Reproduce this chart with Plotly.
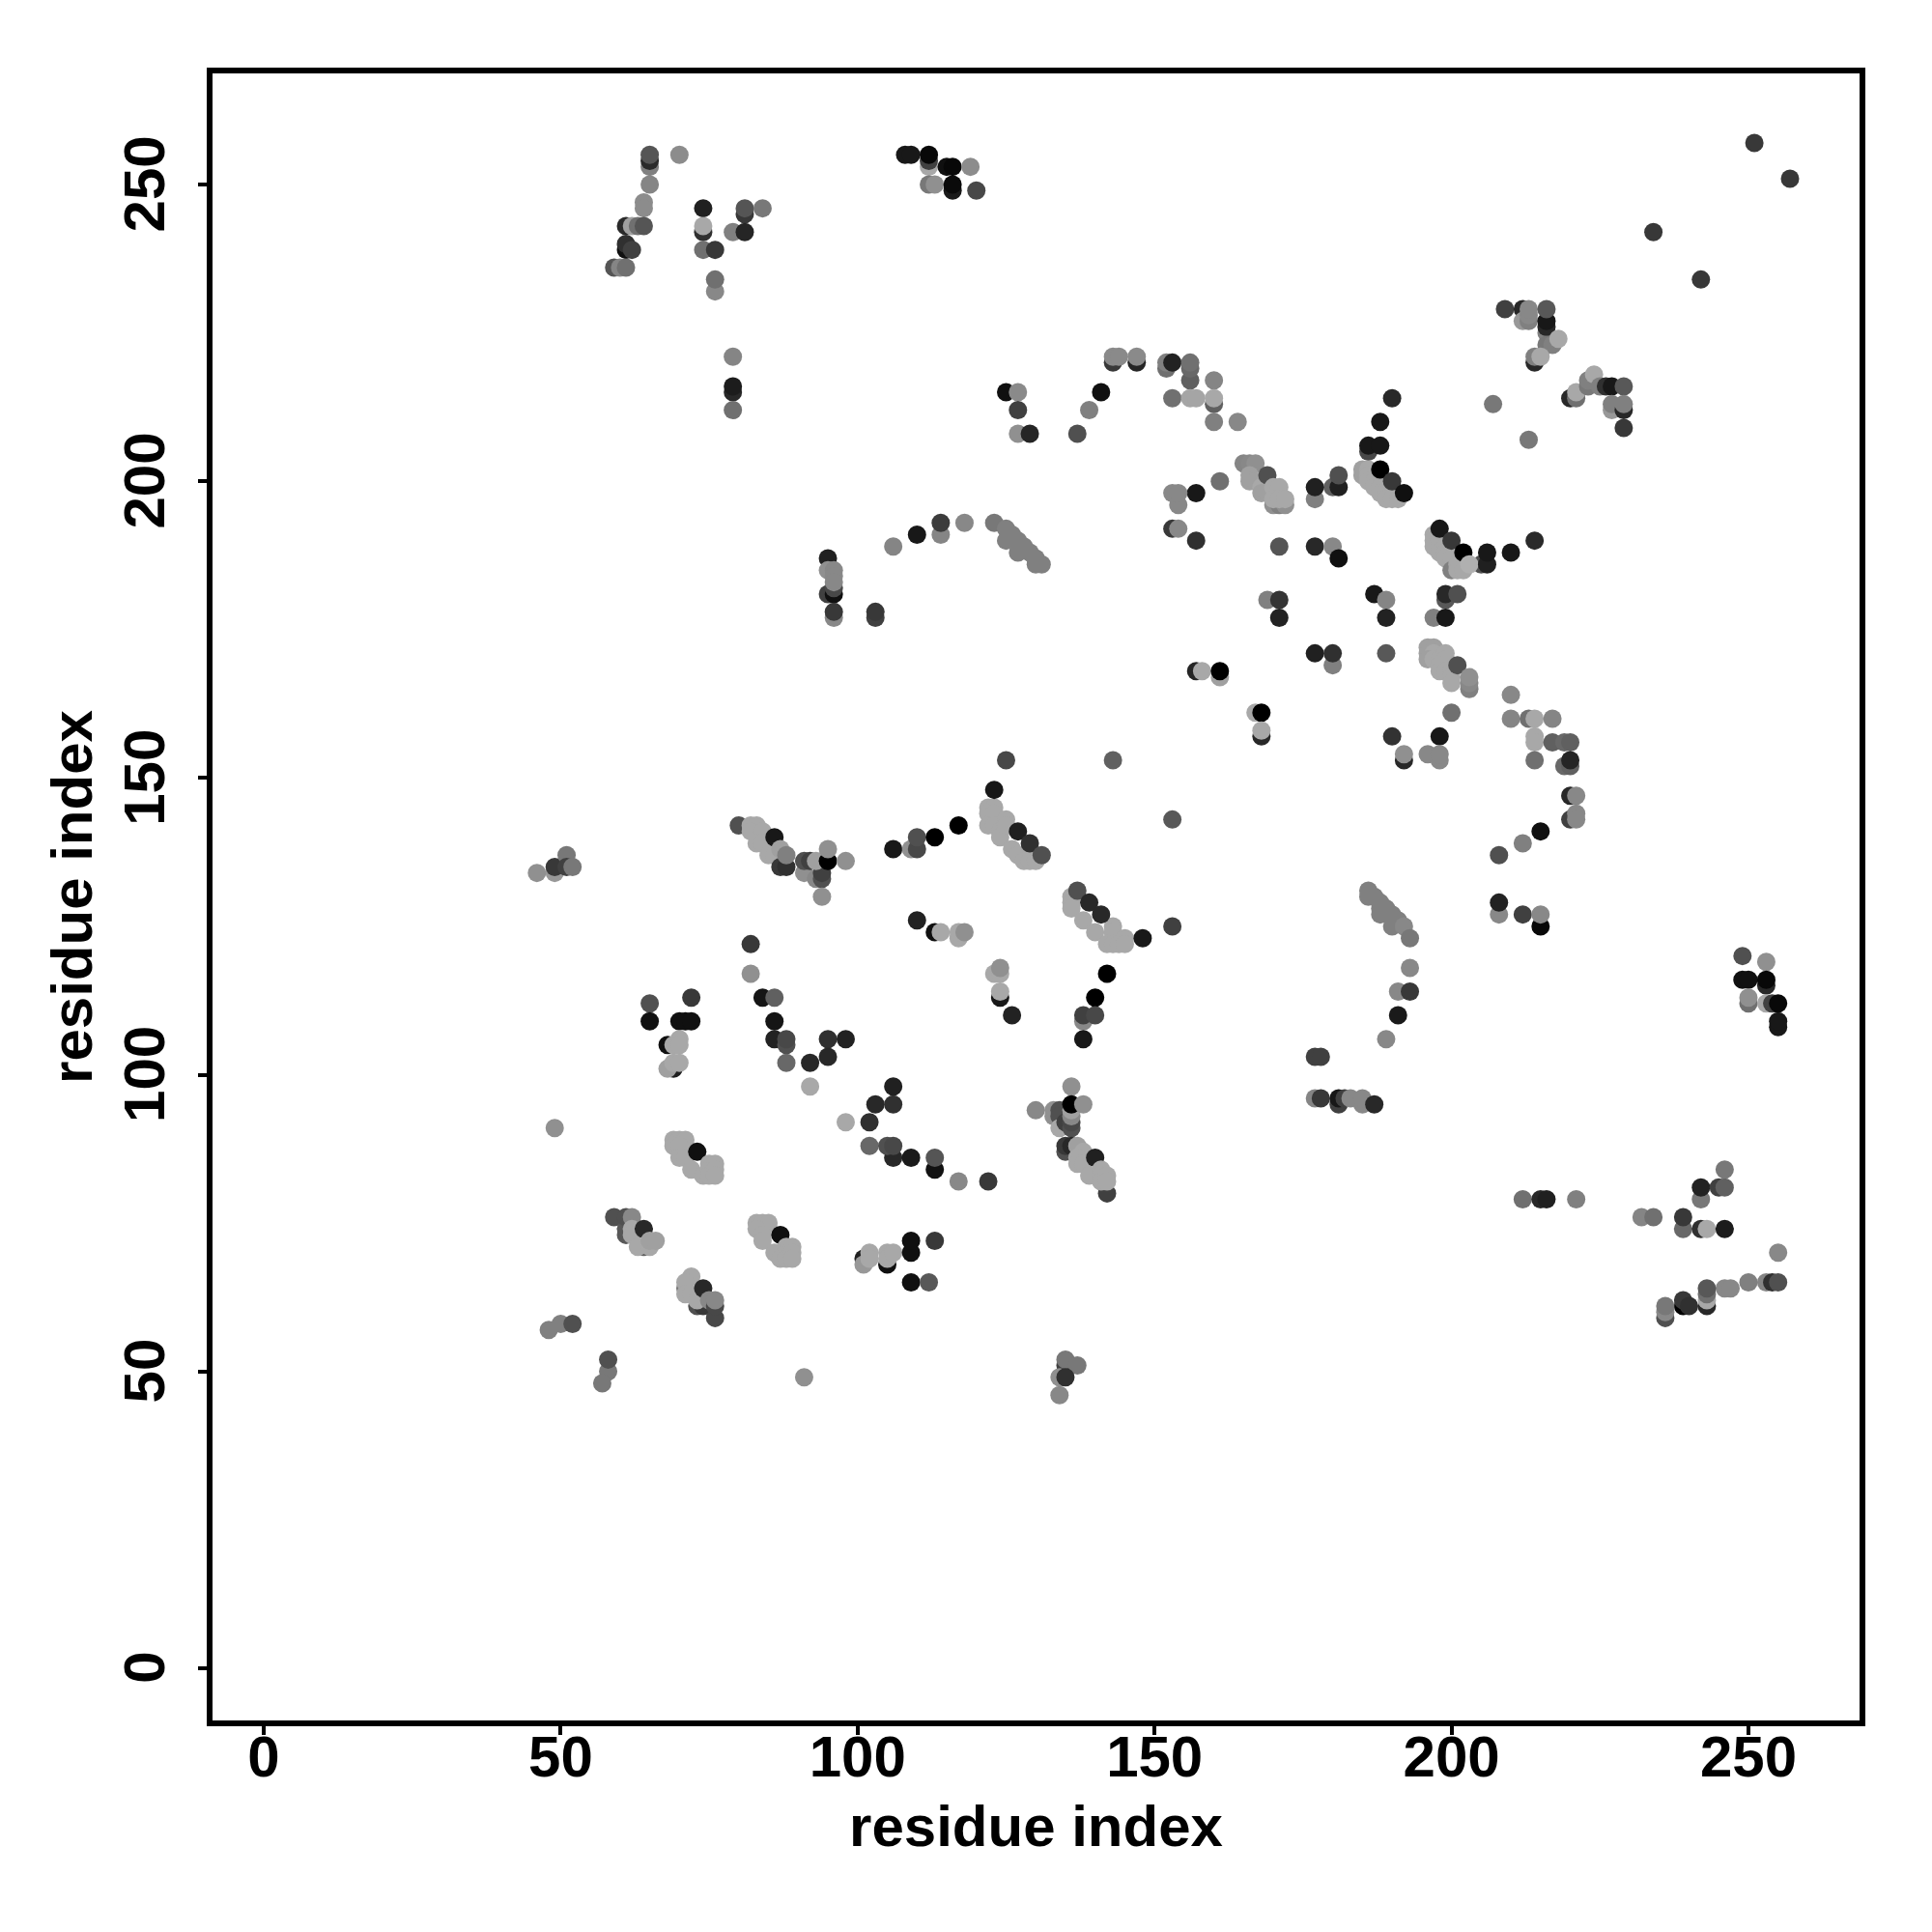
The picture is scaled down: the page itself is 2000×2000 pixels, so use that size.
import plotly.graph_objects as go

axis_title = "residue index"
tick_values = [0, 50, 100, 150, 200, 250]

# each entry: residue i, residue j, shade level of the point (0 black .. 255 white)
top_left = [(65,253,0x80),(65,254,0x2a),(65,255,0x55),(65,250,0x85),(70,255,0x8c),(64,247,0x8c),(64,246,0x8c),
            (61,243,0x2a),(62,243,0xa0),(63,243,0x70),(64,243,0x55),(61,239,0x10),(61,240,0x30),(62,239,0x40),
            (59,236,0x55),(60,236,0x85),(61,236,0x70),(74,246,0x20),(74,242,0x30),(74,243,0xa8),(74,239,0x70),
            (76,239,0x38),(76,232,0x88),(76,234,0x70),(81,245,0x38),(81,246,0x55),(84,246,0x78),(79,242,0x80),
            (81,242,0x25),(79,221,0x85),(79,215,0x28),(79,216,0x1c),(79,212,0x70)]
top_mid = [(108,255,0x18),(109,255,0x18),(112,253,0xa8),(112,254,0x40),(112,255,0x08),(112,250,0x78),(113,250,0x90),
           (115,253,0x10),(116,253,0x08),(119,253,0x8c),(116,249,0x1a),(116,250,0x0a),(120,249,0x48)]
arc_220 = [(143,220,0x38),(143,221,0x8a),(144,221,0x8a),(147,220,0x25),(147,221,0x8a),(152,219,0x70),(152,220,0x80),
           (153,220,0x22),(156,217,0x60),(156,219,0x68),(156,220,0x70),(160,217,0x85),(153,214,0x70),(156,214,0xa5),
           (157,214,0xa5),(160,213,0x60),(160,214,0xa8),(160,210,0x80),(164,210,0x88),(125,215,0x10),(127,215,0x8a),
           (127,212,0x40),(127,208,0x90),(129,208,0x25),(137,208,0x50),(139,212,0x80),(141,215,0x10)]
top_right = [(251,257,0x38),(257,251,0x38),(234,242,0x38),(242,234,0x38),(209,229,0x40),(212,229,0x28),(212,227,0x98),
             (213,227,0x80),(213,228,0x88),(213,229,0x88),(216,225,0x80),(216,226,0x28),(216,227,0x18),(216,229,0x58),
             (216,223,0x78),(217,223,0x80),(218,224,0xa8),(214,220,0x28),(214,221,0x80),(215,221,0xa8),(207,213,0x78),
             (213,207,0x78),(220,214,0x28),(221,214,0x70),(221,215,0xa8),(223,216,0x78),(223,217,0x80),(224,218,0xa8),
             (225,216,0x80),(226,216,0x30),(227,216,0x18),(229,216,0x58),(227,212,0x98),(227,213,0x80),(229,212,0x28),
             (229,213,0x80),(229,209,0x38)]
star_200 = [(190,214,0x28),(188,210,0x18),(186,205,0x48),(186,206,0x18),(188,206,0x18),
            (185,201,0xa0),(185,202,0xa0),(186,202,0xa8),(186,201,0xa8),(186,200,0xa8),(187,200,0xa8),(187,199,0xa8),
            (188,199,0xa8),(188,198,0xa8),(189,198,0xa8),(189,197,0xa8),(190,197,0xa8),(191,197,0xa8),
            (188,202,0x00),(190,200,0x38),(192,198,0x10),(180,199,0x60),(181,199,0x20),(181,201,0x50),(177,197,0x80),
            (177,199,0x20),(161,200,0x70),(157,198,0x18),(154,196,0x88),(153,198,0x88),(154,198,0x88),
            (153,192,0x38),(154,192,0x88),(157,190,0x30)]
band_165 = [(165,203,0x85),(166,203,0x88),(167,203,0x90),(166,201,0xa0),(166,200,0xa0),(167,200,0xa0),(168,199,0xa8),
            (168,198,0xa0),(169,198,0xa0),(170,196,0x90),(171,196,0x80),(172,196,0x90),(169,201,0x50),(170,199,0xa8),
            (171,199,0xa8),(170,197,0xa8),(171,197,0xa8),(172,197,0xa8),(171,189,0x55),(177,189,0x28),(180,189,0x88),
            (181,187,0x10)]
band_190 = [(197,191,0xa8),(197,190,0xa8),(197,189,0xa8),(198,190,0xa8),(198,188,0xa8),(199,189,0xa8),(199,188,0xa8),
            (199,187,0xa8),(200,187,0xa8),(200,185,0x80),(201,186,0xa8),(201,185,0xa8),(202,185,0xa8),(198,192,0x18),
            (200,190,0x38),(202,188,0x00),(205,186,0x50),(203,186,0xb0),(206,186,0x20),(206,188,0x18),(210,188,0x18),
            (214,190,0x2a)]
mid_180 = [(169,180,0x80),(171,180,0x35),(171,177,0x22),(187,181,0x18),(189,180,0x85),(189,177,0x22),(189,171,0x58),
           (199,180,0x58),(199,181,0x28),(201,181,0x50),(197,177,0x80),(199,177,0x18),(177,171,0x20),(180,169,0x80),
           (180,171,0x30),(157,168,0x25),(158,168,0xa8),(161,167,0xa0),(161,168,0x00),(167,161,0xa8),(168,161,0x00),
           (168,157,0x28),(168,158,0xa8)]
band_170 = [(196,172,0xa0),(197,172,0xa0),(196,171,0xa0),(197,171,0xa8),(196,170,0xa0),(197,170,0xa8),(198,170,0xa8),
            (199,171,0xa8),(199,170,0xa8),(198,169,0xa8),(198,168,0xa8),(199,168,0xa8),(200,168,0xa8),(200,167,0xa8),
            (200,166,0xa8),(201,169,0x50),(203,165,0x80),(203,166,0x88),(203,167,0x90),(200,161,0x70),(190,157,0x32),
            (198,157,0x18),(192,153,0x28),(192,154,0x90),(196,154,0x88),(198,153,0x88),(198,154,0x88)]
right_150 = [(210,164,0x88),(210,160,0x85),(213,160,0x70),(214,160,0xa8),(217,160,0x85),(214,157,0xa8),(214,156,0xa8),
             (217,156,0x60),(219,156,0x68),(220,156,0x60),(214,153,0x70),(219,152,0x68),(220,152,0x60),(220,153,0x25),
             (220,147,0x28),(221,147,0x88),(220,143,0x40),(221,144,0x88),(221,143,0x88),(215,141,0x10),(212,139,0x80),
             (208,137,0x50),(208,127,0x88),(208,129,0x22),(212,127,0x40),(215,125,0x08),(215,127,0x88)]
band_128 = [(186,131,0x80),(186,130,0x80),(187,130,0x80),(188,129,0x80),(188,128,0x80),(188,127,0x80),(189,128,0x80),
            (190,127,0x80),(190,125,0x80),(191,126,0x80),(192,125,0x88),(193,123,0x78),(193,118,0x88),(191,114,0x88),
            (193,114,0x38),(191,110,0x1a),(189,106,0x88),(177,103,0x40),(178,103,0x40),(177,96,0x85),(178,96,0x38),
            (181,95,0x40),(181,96,0x18),(182,96,0x40),(183,96,0x88),(185,95,0x88),(185,96,0x88),(187,95,0x28)]
right_115 = [(249,120,0x50),(253,119,0x90),(249,116,0x10),(250,116,0x10),(253,115,0x28),(253,116,0x08),(250,112,0x70),
             (250,113,0x90),(253,112,0xa8),(254,112,0x40),(255,112,0x08),(255,108,0x18),(255,109,0x18)]
low_right = [(212,79,0x70),(215,79,0x28),(216,79,0x20),(221,79,0x80),(232,76,0x85),(234,76,0x70),(239,74,0x68),
             (239,76,0x38),(242,74,0x30),(243,74,0xa8),(246,74,0x1c),(242,79,0x78),(242,81,0x22),(245,81,0x40),
             (246,81,0x60),(246,84,0x78),(255,70,0x88),(250,65,0x80),(253,65,0x85),(254,65,0x30),(255,65,0x50),
             (246,64,0x88),(247,64,0x88),(243,61,0x28),(243,62,0xa8),(243,63,0x70),(243,64,0x58),(239,61,0x00),
             (239,62,0x38),(240,61,0x30),(236,59,0x50),(236,60,0x88),(236,61,0x78)]
left_135 = [(46,134,0x90),(49,134,0x98),(49,135,0x38),(51,137,0x78),(51,135,0x40),(52,135,0x78),(80,142,0x50),
            (82,142,0xa8),(83,142,0xa8),(82,141,0xa8),(84,141,0xa8),(83,139,0xa8),(84,139,0xa8),(85,137,0xa8),
            (86,137,0xa8),(86,140,0x18),(87,135,0x38),(88,135,0x30),(87,138,0xa0),(88,137,0x80),(91,134,0x90),
            (93,133,0x88),(91,136,0x50),(92,136,0x40),(94,133,0x50),(94,134,0x40),(93,136,0xa0),(95,136,0x00),
            (95,138,0x90),(98,136,0x90),(94,130,0x90),(106,138,0x18),(109,138,0x90),(110,138,0x48),(110,140,0x50),
            (113,140,0x00)]
mid_110 = [(82,122,0x38),(82,117,0x90),(84,113,0x15),(86,113,0x60),(86,109,0x15),(86,106,0x22),(88,105,0x50),
           (88,106,0x48),(88,102,0x68),(92,102,0x28),(95,106,0x30),(98,106,0x22),(95,103,0x28),(92,98,0xa8),
           (65,112,0x50),(65,109,0x10),(70,109,0x10),(71,109,0x10),(72,109,0x10),(72,113,0x38),(68,105,0x10),
           (69,105,0xa8),(70,106,0xa8),(70,105,0xa8),(69,101,0x20),(68,101,0xa0),(69,102,0xa8),(70,102,0xa8),(49,91,0x90)]
mid_90 = [(106,98,0x20),(103,95,0x28),(106,95,0x30),(98,92,0xa8),(102,92,0x30),(106,86,0x28),(102,88,0x68),
          (105,88,0x50),(106,88,0x48),(109,86,0x1a),(113,84,0x12),(113,86,0x55),(117,82,0x88),(122,82,0x38)]
low_left = [(69,89,0xa8),(70,89,0xa8),(71,89,0xa8),(69,88,0xa8),(70,88,0xa8),(70,86,0xa8),(71,86,0xa8),(73,87,0x10),
            (72,84,0xa8),(74,83,0xa8),(75,85,0xa8),(75,84,0xa8),(75,83,0xa8),(76,85,0xa8),(76,84,0xa8),(76,83,0xa8),
            (59,76,0x50),(61,73,0x58),(61,74,0x58),(61,76,0x50),(62,76,0x88),(62,74,0xa8),(62,73,0xa8),(64,74,0x28),
            (64,71,0x60),(63,71,0xa8),(65,71,0xa8),(65,72,0xa0),(66,72,0xa0),
            (83,75,0xa8),(84,75,0xa8),(85,75,0xa8),(83,74,0xa8),(84,73,0xa8),(84,72,0xa8),(87,73,0x10),(86,70,0xa8),
            (87,69,0xa8),(88,71,0xa8),(88,70,0xa8),(88,69,0xa8),(89,71,0xa8),(89,70,0xa8),(89,69,0xa8),
            (73,61,0x50),(74,61,0x38),(71,64,0x78),(72,66,0xa8),(71,65,0xa8),(71,63,0xa8),(72,63,0xa8),(73,62,0xa8),
            (74,64,0x28),(75,62,0x88),(76,59,0x48),(76,61,0x48),(76,62,0x88),
            (48,57,0x80),(50,58,0x80),(52,58,0x50),(58,50,0x78),(57,48,0x78),(58,52,0x50),(91,49,0x90)]
mid_70 = [(101,69,0x20),(101,68,0x98),(102,70,0xa8),(102,69,0xa8),(105,68,0x10),(105,70,0xa8),(105,69,0xa8),(106,70,0xa8),
          (109,70,0x10),(109,72,0x10),(113,72,0x38),(109,65,0x10),(112,65,0x58)]
cluster_90 = [(130,94,0x88),(133,94,0x90),(133,93,0x90),(134,94,0x50),(134,93,0x50),(134,91,0xa8),(135,92,0x40),
              (136,98,0x90),(136,91,0x50),(136,92,0x48),(136,93,0x88),(136,94,0xa0),(136,95,0x00),(138,95,0x90),
              (135,87,0x50),(135,88,0x38),(136,88,0x28),(137,88,0xa0),(138,87,0xa8),(137,86,0xa8),(137,85,0xa8),
              (138,85,0xa8),(140,86,0x20),(142,80,0x40),(139,83,0xa8),(141,84,0xa8),(141,83,0xa8),(141,82,0xa8),
              (142,83,0xa8),(142,82,0xa8),(135,51,0x40),(135,52,0x78),(137,51,0x78),(134,49,0x90),(135,49,0x30),(134,46,0x88)]
band_145 = [(122,145,0xa8),(123,145,0xa8),(122,144,0xa8),(123,144,0xa8),(122,142,0xa8),(123,142,0xa8),(124,141,0xa8),
            (124,140,0xa8),(125,143,0xa8),(125,142,0xa8),(126,138,0xa8),(127,137,0xa8),(128,136,0xa8),(129,136,0xa8),
            (130,136,0xa8),(127,141,0x20),(129,139,0x30),(131,137,0x50),(125,153,0x48),(143,153,0x60),(123,148,0x18),
            (153,143,0x58),(117,142,0x00)]
band_125 = [(136,130,0xa8),(136,129,0xa8),(136,128,0xa8),(138,126,0xa8),(140,124,0xa8),(143,125,0xa8),(143,124,0xa8),
            (142,122,0xa8),(143,122,0xa8),(144,122,0xa8),(145,123,0xa8),(145,122,0xa8),(137,131,0x50),(139,129,0x28),
            (141,127,0x28),(148,123,0x18),(153,125,0x40),(110,126,0x22),(113,124,0x10),(114,124,0xa8),(117,123,0xa8),
            (117,124,0xa8),(118,124,0x90),(123,117,0xa8),(124,117,0xa8),(124,118,0x90),(124,113,0x18),(124,114,0xa8),
            (126,110,0x22),(142,117,0x00),(140,113,0x00),(138,109,0x88),(138,110,0x40),(140,110,0x48),(138,106,0x18)]
arc_190 = [(103,177,0x40),(103,178,0x38),(106,189,0x85),(110,191,0x18),(114,191,0x85),(114,193,0x3c),(118,193,0x88),
           (123,193,0x78),(125,192,0x80),(125,190,0x80),(126,191,0x80),(127,190,0x80),(127,188,0x80),(128,189,0x80),
           (129,188,0x80),(130,187,0x80),(130,186,0x80),(131,186,0x80)]
column_96 = [(95,187,0x20),(95,185,0x90),(95,181,0x40),(96,181,0x10),(96,182,0x48),(96,185,0x88),(96,184,0x88),
             (96,183,0x88),(96,177,0x88),(96,178,0x38)]

clusters = [top_left, top_mid, arc_220, top_right, star_200, band_165, band_190, mid_180, band_170, right_150,
            band_128, right_115, low_right, left_135, mid_110, mid_90, low_left, mid_70, cluster_90, band_145,
            band_125, arc_190, column_96]
points = [p for c in clusters for p in c]

fig = go.Figure(go.Scatter(
    x=[p[0] for p in points], y=[p[1] for p in points], mode="markers",
    marker=dict(size=19, color=[p[2] for p in points], cmin=0, cmax=255,
                colorscale=[[0, "#000000"], [1, "#ffffff"]], showscale=False, line=dict(width=0)),
    hoverinfo="skip"))

FONT = "Liberation Sans"
tickfont = dict(family=FONT, size=60, color="#000000", weight="bold")
titlefont = dict(family=FONT, size=60, color="#000000", weight="bold")
common = dict(tickmode="array", tickvals=tick_values, ticks="outside", ticklen=9, tickwidth=4, tickcolor="#000000",
              showline=True, linewidth=6, linecolor="#000000", mirror=True, showgrid=False, zeroline=False,
              tickfont=tickfont)
fig.update_xaxes(range=[-8.62, 268.71], title=dict(text=axis_title, font=titlefont, standoff=20),
                 tickangle=0, ticklabelstandoff=-29, **common)
# the trailing no-break space centres the rotated labels on their ticks
fig.update_yaxes(range=[-8.82, 268.73], title=dict(text=axis_title, font=titlefont, standoff=3),
                 tickangle=-90, ticklabelstandoff=11, ticktext=[f"{v}\u00a0" for v in tick_values], **common)
fig.update_layout(width=2000, height=2000, margin=dict(l=212, r=83, t=67.7, b=227.3, autoexpand=False),
                  paper_bgcolor="white", plot_bgcolor="white", showlegend=False)
fig.write_html("out.html")
